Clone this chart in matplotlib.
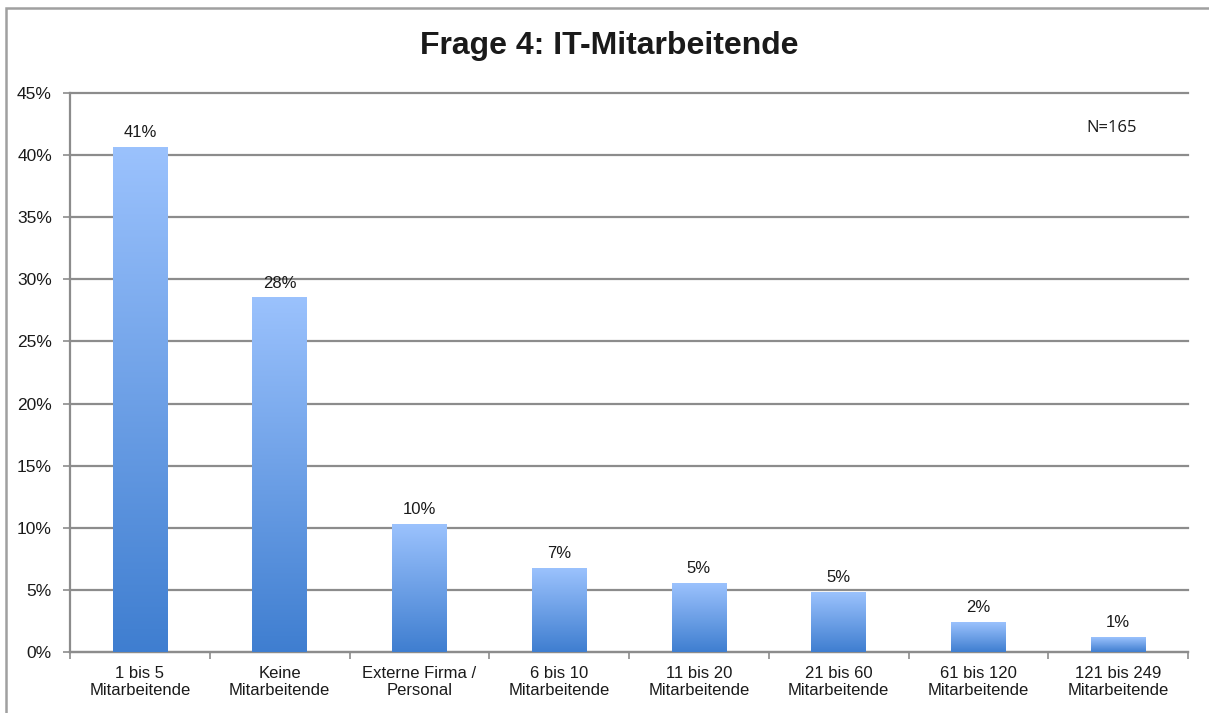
import matplotlib.pyplot as plt
import numpy as np
from matplotlib.colors import LinearSegmentedColormap
from matplotlib.patches import Rectangle
from matplotlib.ticker import PercentFormatter

plt.rcParams['font.family'] = ['Liberation Sans', 'DejaVu Sans']

# data
categories = ['1 bis 5\nMitarbeitende', 'Keine\nMitarbeitende', 'Externe Firma /\nPersonal',
              '6 bis 10\nMitarbeitende', '11 bis 20\nMitarbeitende', '21 bis 60\nMitarbeitende',
              '61 bis 120\nMitarbeitende', '121 bis 249\nMitarbeitende']
values = [40.6, 28.5, 10.3, 6.7, 5.5, 4.8, 2.4, 1.2]
labels = ['41%', '28%', '10%', '7%', '5%', '5%', '2%', '1%']
yticks = [0, 5, 10, 15, 20, 25, 30, 35, 40, 45]

fig = plt.figure(figsize=(12.09, 7.13), dpi=100)
ax = fig.add_axes([70 / 1209, 1 - 652 / 713, (1188 - 70) / 1209, (652 - 93) / 713])

grad = LinearSegmentedColormap.from_list('bar', ['#3f7ed0', '#9bc2fd'])
x = np.arange(len(categories))
bw = 0.39
bars = ax.bar(x, values, width=bw, color='none', zorder=3)
g = np.linspace(0, 1, 256).reshape(-1, 1)
for b in bars:
    x0, y0 = b.get_x(), b.get_y()
    ax.imshow(g, cmap=grad, aspect='auto', origin='lower', zorder=3,
              extent=[x0, x0 + b.get_width(), y0, y0 + b.get_height()])

for xi, v, lab in zip(x, values, labels):
    ax.text(xi, v + 0.6, lab, ha='center', va='bottom', fontsize=12, color='#1a1a1a')

ax.set_xlim(-0.5, len(categories) - 0.5)
ax.set_ylim(0, 45)
ax.set_yticks(yticks)
ax.yaxis.set_major_formatter(PercentFormatter(decimals=0))
ax.yaxis.grid(True, color='#8c8c8c', linewidth=1.6, zorder=0)
ax.set_axisbelow(True)
for gl in ax.get_ygridlines():
    gl.set_clip_on(False)

ax.set_xticks(x)
ax.set_xticklabels(categories, fontsize=12, color='#1a1a1a', linespacing=1.2)
ax.set_xticks(np.arange(len(categories) + 1) - 0.5, minor=True)
ax.tick_params(axis='x', which='major', length=0, pad=10)
ax.tick_params(axis='x', which='minor', length=5, color='#8c8c8c', width=1.2)
ax.tick_params(axis='y', length=5, color='#8c8c8c', width=1.2, labelsize=12.5, labelcolor='#1a1a1a', pad=8)

for s in ['top', 'right']:
    ax.spines[s].set_visible(False)
for s in ['left', 'bottom']:
    ax.spines[s].set_color('#8c8c8c')
    ax.spines[s].set_linewidth(1.6)

fig.text(609 / 1209, 1 - 46 / 713, 'Frage 4: IT-Mitarbeitende', ha='center', va='center',
         fontsize=23, fontweight='bold', color='#1a1a1a')
fig.text(1112 / 1209, 1 - 128 / 713, 'N=165', ha='center', va='center',
         fontsize=12, family=['Open Sans', 'DejaVu Sans'], color='#1a1a1a')

fig.patches.append(Rectangle((6 / 1209, -0.05), 1.1, 1 - 8 / 713 + 0.05, transform=fig.transFigure,
                             fill=False, edgecolor='#a0a0a0', linewidth=1.8))

fig.savefig('out.png', dpi=100)
